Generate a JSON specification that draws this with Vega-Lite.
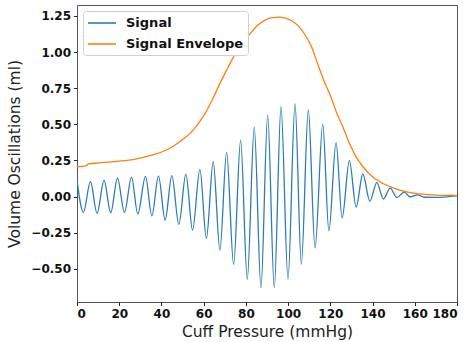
{
  "$schema": "https://vega.github.io/schema/vega-lite/v6.json",
  "width": 380,
  "height": 297,
  "autosize": {"type": "none"},
  "padding": {"left": 77, "top": 5, "right": 13, "bottom": 40},
  "background": "white",
  "config": {
    "font": "DejaVu Sans",
    "view": {"stroke": "#555", "strokeWidth": 1},
    "axis": {
      "domain": false,
      "grid": false,
      "tickColor": "#222",
      "tickSize": 3.5,
      "tickWidth": 1,
      "labelFont": "DejaVu Sans",
      "labelFontWeight": "bold",
      "labelFontSize": 12,
      "labelColor": "#111",
      "labelPadding": 3,
      "titleFont": "DejaVu Sans",
      "titleFontWeight": "normal",
      "titleFontSize": 15.5,
      "titleColor": "#222"
    },
    "legend": {
      "orient": "top-left",
      "offset": 6,
      "padding": 4,
      "strokeColor": "#d0d0d0",
      "fillColor": "white",
      "cornerRadius": 3,
      "labelFont": "DejaVu Sans",
      "labelFontWeight": "bold",
      "labelFontSize": 13,
      "labelColor": "#111",
      "symbolType": "M-1,0H3",
      "symbolSize": 196,
      "symbolStrokeWidth": 1.6,
      "rowPadding": 6,
      "labelOffset": 23
    }
  },
  "data": {
    "values": [
      {"x": 0, "y": 0.114, "series": "Signal"},
      {"x": 3.04, "y": -0.109, "series": "Signal"},
      {"x": 6.36, "y": 0.103, "series": "Signal"},
      {"x": 9.49, "y": -0.116, "series": "Signal"},
      {"x": 12.81, "y": 0.112, "series": "Signal"},
      {"x": 15.99, "y": -0.112, "series": "Signal"},
      {"x": 19.17, "y": 0.128, "series": "Signal"},
      {"x": 22.49, "y": -0.11, "series": "Signal"},
      {"x": 25.81, "y": 0.135, "series": "Signal"},
      {"x": 28.8, "y": -0.12, "series": "Signal"},
      {"x": 32.45, "y": 0.14, "series": "Signal"},
      {"x": 35.44, "y": -0.133, "series": "Signal"},
      {"x": 38.61, "y": 0.141, "series": "Signal"},
      {"x": 41.75, "y": -0.163, "series": "Signal"},
      {"x": 44.92, "y": 0.145, "series": "Signal"},
      {"x": 48.24, "y": -0.193, "series": "Signal"},
      {"x": 51.57, "y": 0.155, "series": "Signal"},
      {"x": 54.74, "y": -0.232, "series": "Signal"},
      {"x": 58.21, "y": 0.188, "series": "Signal"},
      {"x": 61.29, "y": -0.29, "series": "Signal"},
      {"x": 64.52, "y": 0.241, "series": "Signal"},
      {"x": 67.69, "y": -0.37, "series": "Signal"},
      {"x": 70.87, "y": 0.306, "series": "Signal"},
      {"x": 74.19, "y": -0.47, "series": "Signal"},
      {"x": 77.51, "y": 0.391, "series": "Signal"},
      {"x": 80.65, "y": -0.573, "series": "Signal"},
      {"x": 83.97, "y": 0.479, "series": "Signal"},
      {"x": 87.14, "y": -0.629, "series": "Signal"},
      {"x": 90.32, "y": 0.564, "series": "Signal"},
      {"x": 93.45, "y": -0.629, "series": "Signal"},
      {"x": 96.63, "y": 0.622, "series": "Signal"},
      {"x": 99.95, "y": -0.571, "series": "Signal"},
      {"x": 103.27, "y": 0.641, "series": "Signal"},
      {"x": 106.26, "y": -0.468, "series": "Signal"},
      {"x": 109.58, "y": 0.599, "series": "Signal"},
      {"x": 112.76, "y": -0.355, "series": "Signal"},
      {"x": 116.41, "y": 0.502, "series": "Signal"},
      {"x": 119.31, "y": -0.238, "series": "Signal"},
      {"x": 122.72, "y": 0.373, "series": "Signal"},
      {"x": 125.57, "y": -0.148, "series": "Signal"},
      {"x": 129.03, "y": 0.248, "series": "Signal"},
      {"x": 132.21, "y": -0.073, "series": "Signal"},
      {"x": 135.39, "y": 0.156, "series": "Signal"},
      {"x": 138.71, "y": -0.032, "series": "Signal"},
      {"x": 142.03, "y": 0.096, "series": "Signal"},
      {"x": 145.16, "y": -0.017, "series": "Signal"},
      {"x": 148.34, "y": 0.059, "series": "Signal"},
      {"x": 151.52, "y": -0.007, "series": "Signal"},
      {"x": 154.98, "y": 0.031, "series": "Signal"},
      {"x": 157.83, "y": -0.003, "series": "Signal"},
      {"x": 161.29, "y": 0.012, "series": "Signal"},
      {"x": 164.5, "y": -0.005, "series": "Signal"},
      {"x": 170, "y": -0.006, "series": "Signal"},
      {"x": 175, "y": -0.002, "series": "Signal"},
      {"x": 180, "y": 0.006, "series": "Signal"},
      {"x": 0, "y": 0.206, "series": "Signal Envelope"},
      {"x": 4, "y": 0.212, "series": "Signal Envelope"},
      {"x": 5.5, "y": 0.226, "series": "Signal Envelope"},
      {"x": 10, "y": 0.232, "series": "Signal Envelope"},
      {"x": 19, "y": 0.244, "series": "Signal Envelope"},
      {"x": 27, "y": 0.258, "series": "Signal Envelope"},
      {"x": 35, "y": 0.285, "series": "Signal Envelope"},
      {"x": 42.4, "y": 0.322, "series": "Signal Envelope"},
      {"x": 48.7, "y": 0.38, "series": "Signal Envelope"},
      {"x": 55, "y": 0.46, "series": "Signal Envelope"},
      {"x": 58.2, "y": 0.52, "series": "Signal Envelope"},
      {"x": 61.3, "y": 0.59, "series": "Signal Envelope"},
      {"x": 64.4, "y": 0.68, "series": "Signal Envelope"},
      {"x": 67.6, "y": 0.78, "series": "Signal Envelope"},
      {"x": 70.7, "y": 0.87, "series": "Signal Envelope"},
      {"x": 74.3, "y": 0.97, "series": "Signal Envelope"},
      {"x": 77.9, "y": 1.05, "series": "Signal Envelope"},
      {"x": 81.6, "y": 1.12, "series": "Signal Envelope"},
      {"x": 85.2, "y": 1.18, "series": "Signal Envelope"},
      {"x": 88.9, "y": 1.22, "series": "Signal Envelope"},
      {"x": 92.5, "y": 1.238, "series": "Signal Envelope"},
      {"x": 95.5, "y": 1.242, "series": "Signal Envelope"},
      {"x": 98.7, "y": 1.235, "series": "Signal Envelope"},
      {"x": 101.8, "y": 1.215, "series": "Signal Envelope"},
      {"x": 104.9, "y": 1.18, "series": "Signal Envelope"},
      {"x": 108, "y": 1.12, "series": "Signal Envelope"},
      {"x": 111, "y": 1.04, "series": "Signal Envelope"},
      {"x": 114, "y": 0.92, "series": "Signal Envelope"},
      {"x": 117, "y": 0.8, "series": "Signal Envelope"},
      {"x": 120, "y": 0.7, "series": "Signal Envelope"},
      {"x": 123, "y": 0.58, "series": "Signal Envelope"},
      {"x": 126, "y": 0.48, "series": "Signal Envelope"},
      {"x": 129, "y": 0.37, "series": "Signal Envelope"},
      {"x": 132, "y": 0.28, "series": "Signal Envelope"},
      {"x": 135, "y": 0.215, "series": "Signal Envelope"},
      {"x": 138, "y": 0.165, "series": "Signal Envelope"},
      {"x": 141, "y": 0.125, "series": "Signal Envelope"},
      {"x": 145, "y": 0.09, "series": "Signal Envelope"},
      {"x": 150, "y": 0.058, "series": "Signal Envelope"},
      {"x": 155, "y": 0.036, "series": "Signal Envelope"},
      {"x": 160, "y": 0.022, "series": "Signal Envelope"},
      {"x": 165, "y": 0.015, "series": "Signal Envelope"},
      {"x": 170, "y": 0.01, "series": "Signal Envelope"},
      {"x": 175, "y": 0.008, "series": "Signal Envelope"},
      {"x": 180, "y": 0.007, "series": "Signal Envelope"}
    ]
  },
  "mark": {"type": "line", "interpolate": "monotone", "strokeWidth": 1.3, "clip": true},
  "encoding": {
    "x": {
      "field": "x",
      "type": "quantitative",
      "title": "Cuff Pressure (mmHg)",
      "scale": {"domain": [0, 180], "nice": false, "zero": false},
      "axis": {"values": [0, 20, 40, 60, 80, 100, 120, 140, 160, 180], "format": "d", "titlePadding": 5}
    },
    "y": {
      "field": "y",
      "type": "quantitative",
      "title": "Volume Oscillations (ml)",
      "scale": {"domain": [-0.73, 1.326], "nice": false, "zero": false},
      "axis": {"values": [-0.5, -0.25, 0, 0.25, 0.5, 0.75, 1, 1.25], "format": ".2f", "titlePadding": 8}
    },
    "color": {
      "field": "series",
      "type": "nominal",
      "title": null,
      "scale": {"domain": ["Signal", "Signal Envelope"], "range": ["#2f7bb6", "#ff7f0e"]},
      "legend": {"title": null}
    }
  }
}
